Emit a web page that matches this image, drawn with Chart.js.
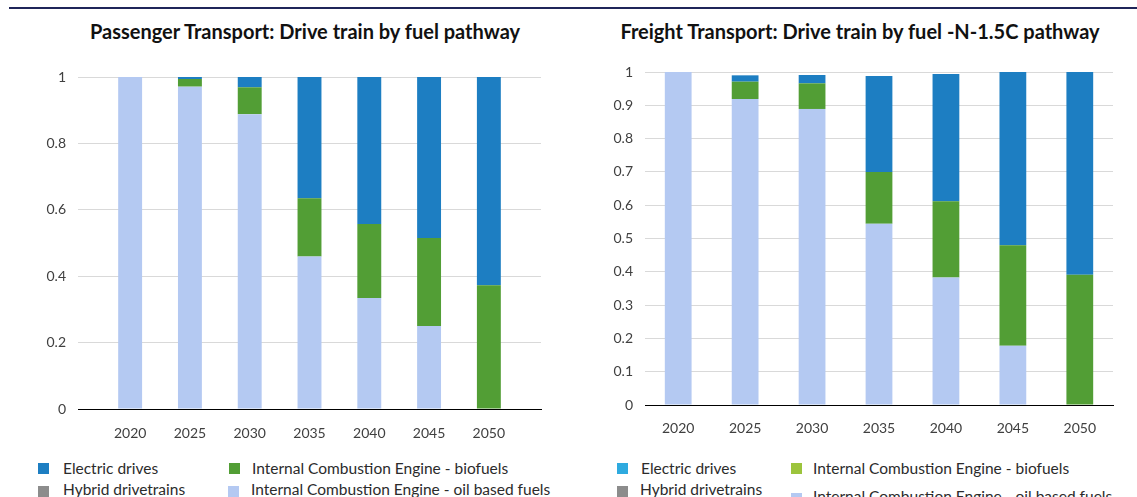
<!DOCTYPE html>
<html>
<head>
<meta charset="utf-8">
<script src="https://cdn.jsdelivr.net/npm/chart.js@4.4.1/dist/chart.umd.min.js"></script>
<style>
  body { margin: 0; background: #fff; width: 1137px; height: 497px; overflow: hidden; position: relative; font-family: Lato, sans-serif; }
  .topline { position: absolute; left: 9px; right: 0; top: 7px; height: 2px; background: #1f2559; }
  canvas { position: absolute; top: 0; }
  .title { position: absolute; top: 19px; width: 600px; text-align: center; font-size: 20px; line-height: 24px; font-weight: bold; color: #111; white-space: nowrap; }
  .lg-box { position: absolute; width: 11px; height: 11px; }
  .lg-text { position: absolute; font-size: 15.5px; line-height: 18px; color: #2b2b2b; white-space: nowrap; }
</style>
</head>
<body>
<div class="topline"></div>
<div class="title" style="left:5px">Passenger Transport: Drive train by fuel pathway</div>
<div class="title" style="left:560px">Freight Transport: Drive train by fuel -N-1.5C pathway</div>
<canvas id="passenger" width="570" height="450" style="left:0px"></canvas>
<canvas id="freight" width="567" height="450" style="left:570px"></canvas>
<div id="legends"></div>
<script>
// categories
const years = [2020, 2025, 2030, 2035, 2040, 2045, 2050];
const seriesNames = ['Electric drives', 'Hybrid drivetrains', 'Internal Combustion Engine - biofuels', 'Internal Combustion Engine - oil based fuels'];

// Passenger transport shares
const passengerElectric = [0, 0.006, 0.031, 0.365, 0.443, 0.485, 0.627];
const passengerHybrid   = [0, 0, 0, 0, 0, 0, 0];
const passengerBiofuels = [0, 0.023, 0.081, 0.176, 0.223, 0.265, 0.373];
const passengerOil      = [1, 0.971, 0.888, 0.459, 0.334, 0.25, 0];

// Freight transport shares
const freightElectric = [0, 0.019, 0.025, 0.288, 0.382, 0.52, 0.609];
const freightHybrid   = [0, 0, 0, 0, 0, 0, 0];
const freightBiofuels = [0, 0.052, 0.077, 0.156, 0.229, 0.302, 0.391];
const freightOil      = [1, 0.919, 0.889, 0.544, 0.383, 0.178, 0];

// y tick steps
const passengerStep = 0.2;
const freightStep = 0.1;

// colours (same order as seriesNames)
const barColors = ['#1d7ec2', '#8c8c8c', '#529e35', '#b4c9f2'];
const freightLegendColors = ['#2eaadf', '#8c8c8c', '#9cc43c', '#b4c9f2'];

function makeChart(id, series, yStep, cfg) {
    let ctx = document.getElementById(id).getContext('2d');
    // oil at the bottom of the stack, electric on top
    let datasets = [3, 2, 1, 0].map(i => ({
        label: seriesNames[i],
        data: series[i],
        backgroundColor: barColors[i],
        borderWidth: 0,
        barPercentage: 0.4,
        categoryPercentage: 1
    }));

    new Chart(ctx, {
        type: 'bar',
        data: { labels: years, datasets: datasets },
        options: {
            responsive: false,
            animation: false,
            devicePixelRatio: 1,
            layout: { padding: { left: 0, right: cfg.padR, top: cfg.padT, bottom: 0 } },
            plugins: {
                legend: { display: false },
                tooltip: { enabled: false }
            },
            scales: {
                x: {
                    type: 'linear',
                    stacked: true,
                    offset: false,
                    min: cfg.xMin,
                    max: cfg.xMax,
                    grid: { display: false, drawTicks: false },
                    border: { display: true, color: '#000', width: 1 },
                    ticks: {
                        stepSize: 5,
                        includeBounds: false,
                        padding: cfg.xPad,
                        color: '#404040',
                        font: { family: 'Lato', size: 14 },
                        callback: v => String(v)
                    },
                    afterFit: s => { s.height = cfg.xHeight; }
                },
                y: {
                    stacked: true,
                    min: 0,
                    max: 1,
                    grid: { color: '#d9d9d9', drawTicks: false },
                    border: { display: false },
                    ticks: {
                        stepSize: yStep,
                        padding: 12,
                        color: '#404040',
                        font: { family: 'Lato', size: 14 },
                        callback: v => String(Number(v.toFixed(2)))
                    },
                    afterFit: s => { s.width = cfg.yWidth; }
                }
            }
        }
    });
}

makeChart('passenger', [passengerElectric, passengerHybrid, passengerBiofuels, passengerOil], passengerStep,
    { padT: 77, padR: 29, yWidth: 78, xHeight: 41, xPad: 16, xMin: 2015.64, xMax: 2054.36 });

makeChart('freight', [freightElectric, freightHybrid, freightBiofuels, freightOil], freightStep,
    { padT: 72, padR: 24, yWidth: 75, xHeight: 45, xPad: 15, xMin: 2017.52, xMax: 2052.48 });

// legends: 2 x 2 grid, column-major
function makeLegend(colors, spots) {
    let holder = document.getElementById('legends');
    spots.forEach((p, i) => {
        let box = document.createElement('div');
        box.className = 'lg-box';
        box.style.left = p[0] + 'px';
        box.style.top = p[1] + 'px';
        box.style.background = colors[i];
        holder.appendChild(box);
        let txt = document.createElement('div');
        txt.className = 'lg-text';
        txt.style.left = p[2] + 'px';
        txt.style.top = (p[3] - 9) + 'px';
        txt.textContent = seriesNames[i];
        holder.appendChild(txt);
    });
}

// [boxX, boxY, textX, textCenterY]
makeLegend(barColors, [[38, 463, 63, 468], [38, 486, 63, 489], [229, 463, 252, 468], [228, 486, 251, 489]]);
makeLegend(freightLegendColors, [[617, 463, 641, 468], [617, 486, 640, 489], [791, 463, 813, 468], [791, 493, 813, 496]]);
</script>
</body>
</html>
